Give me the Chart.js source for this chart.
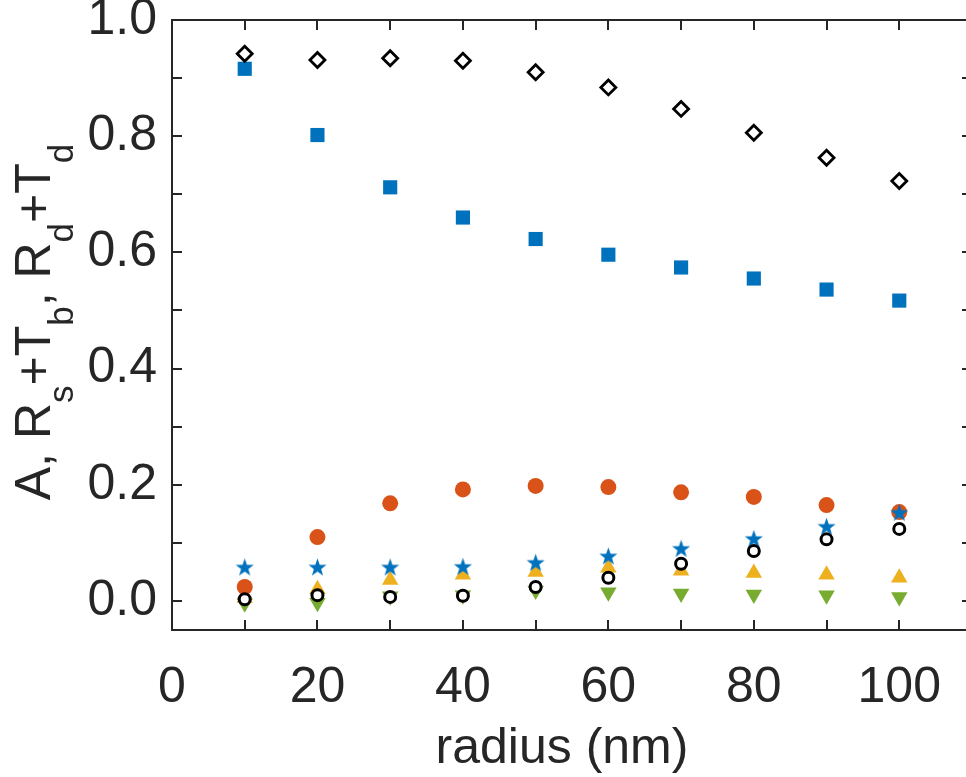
<!DOCTYPE html>
<html>
<head>
<meta charset="utf-8">
<script src="https://cdn.jsdelivr.net/npm/chart.js@4"></script>
<style>
  html, body { margin: 0; padding: 0; overflow: hidden; background: #fff; }
  #wrap { width: 990px; height: 777px; position: relative; }
</style>
</head>
<body>
<div id="wrap"><canvas id="c" width="990" height="777"></canvas></div>
<script>
// ---------- data ----------
const radius = [10, 20, 30, 40, 50, 60, 70, 80, 90, 100];
const seriesDiamond = [0.942, 0.931, 0.934, 0.930, 0.910, 0.884, 0.847, 0.806, 0.763, 0.723];
const seriesSquare  = [0.916, 0.802, 0.712, 0.660, 0.623, 0.596, 0.574, 0.555, 0.536, 0.517];
const seriesOrange  = [0.024, 0.110, 0.168, 0.192, 0.198, 0.196, 0.187, 0.179, 0.165, 0.153];
const seriesStar    = [0.057, 0.057, 0.057, 0.058, 0.065, 0.076, 0.089, 0.106, 0.127, 0.151];
const seriesOpen    = [0.003, 0.010, 0.007, 0.009, 0.024, 0.040, 0.064, 0.086, 0.106, 0.124];
const seriesYellow  = [0.005, 0.020, 0.036, 0.045, 0.050, 0.057, 0.052, 0.048, 0.045, 0.040];
const seriesGreen   = [-0.004, -0.003, 0.008, 0.010, 0.018, 0.015, 0.013, 0.011, 0.010, 0.007];

const xTickLabels = [0, 20, 40, 60, 80, 100];
const xTickMarks  = [0, 10, 20, 30, 40, 50, 60, 70, 80, 90, 100, 110];
const yTickLabels = [0, 0.2, 0.4, 0.6, 0.8, 1.0];
const yTickMarks  = [0, 0.1, 0.2, 0.3, 0.4, 0.5, 0.6, 0.7, 0.8, 0.9, 1.0];
const xLabel = 'radius (nm)';
const yLabelParts = [['A, R', false], ['s', true], ['+T', false], ['b', true], [', R', false], ['d', true], ['+T', false], ['d', true]];

// ---------- styles ----------
const TXT = '#262626';
const FONT = '"Liberation Sans", Arial, Helvetica, sans-serif';
const BLUE = '#0072BD', ORANGE = '#D95319', YELLOW = '#EDB120', GREEN = '#77AC30';

function makeStar(color, R) {
  const s = Math.ceil(R * 2 + 2);
  const cv = document.createElement('canvas');
  cv.width = s; cv.height = s;
  const g = cv.getContext('2d');
  const cx = s / 2, cy = s / 2, r = R * 0.4;
  g.beginPath();
  for (let i = 0; i < 10; i++) {
    const a = -Math.PI / 2 + i * Math.PI / 5;
    const rr = i % 2 === 0 ? R : r;
    const px = cx + rr * Math.cos(a), py = cy + rr * Math.sin(a);
    if (i === 0) g.moveTo(px, py); else g.lineTo(px, py);
  }
  g.closePath();
  g.fillStyle = color;
  g.fill();
  return cv;
}
const starImg = makeStar(BLUE, 9.5);

const pts = arr => radius.map((r, i) => ({ x: r, y: arr[i] }));

const frameTicks = {
  id: 'frameTicks',
  afterDatasetsDraw(chart) {
    const { ctx, chartArea: a, scales } = chart;
    const xs = scales.x, ys = scales.y;
    ctx.save();
    ctx.strokeStyle = TXT;
    ctx.lineWidth = 2;
    ctx.beginPath();
    const L = 10;
    xTickMarks.forEach(v => {
      const px = Math.round(xs.getPixelForValue(v));
      ctx.moveTo(px, a.bottom); ctx.lineTo(px, a.bottom - L);
      ctx.moveTo(px, a.top); ctx.lineTo(px, a.top + L);
    });
    yTickMarks.forEach(v => {
      const py = Math.round(ys.getPixelForValue(v));
      ctx.moveTo(a.left, py); ctx.lineTo(a.left + L, py);
      ctx.moveTo(a.right, py); ctx.lineTo(a.right - L, py);
    });
    ctx.stroke();
    ctx.strokeRect(a.left, a.top, a.right - a.left, a.bottom - a.top);
    ctx.restore();
  },
  afterDraw(chart) {
    const { ctx, chartArea: a } = chart;
    ctx.save();
    ctx.fillStyle = TXT;
    // x title
    ctx.font = '50px ' + FONT;
    ctx.textAlign = 'center';
    ctx.textBaseline = 'alphabetic';
    ctx.fillText(xLabel, (a.left + a.right) / 2 - 10, 763);
    // y title with subscripts
    const big = '50px ' + FONT, small = '35px ' + FONT;
    let total = 0;
    yLabelParts.forEach(([t, sub]) => { ctx.font = sub ? small : big; total += ctx.measureText(t).width; });
    const cy = (a.top + a.bottom) / 2 - 3;
    ctx.translate(50, cy);
    ctx.rotate(-Math.PI / 2);
    ctx.textAlign = 'left';
    let u = -total / 2;
    yLabelParts.forEach(([t, sub]) => {
      ctx.font = sub ? small : big;
      ctx.fillText(t, u, sub ? 23 : 0);
      u += ctx.measureText(t).width;
    });
    ctx.restore();
  }
};

new Chart(document.getElementById('c'), {
  type: 'scatter',
  data: {
    datasets: [
      { label: 'open', data: pts(seriesOpen), pointStyle: 'circle', pointRadius: 5.5, borderWidth: 3,
        borderColor: '#000', backgroundColor: '#fff' },
      { label: 'star', data: pts(seriesStar), pointStyle: starImg, pointRadius: 9.5 },
      { label: 'orange', data: pts(seriesOrange), pointStyle: 'circle', pointRadius: 8, borderWidth: 0,
        backgroundColor: ORANGE, borderColor: ORANGE },
      { label: 'yellow', data: pts(seriesYellow), pointStyle: 'triangle', pointRadius: 9.5, borderWidth: 0,
        backgroundColor: YELLOW, borderColor: YELLOW },
      { label: 'green', data: pts(seriesGreen), pointStyle: 'triangle', rotation: 180, pointRadius: 9.5, borderWidth: 0,
        backgroundColor: GREEN, borderColor: GREEN },
      { label: 'diamond', data: pts(seriesDiamond), pointStyle: 'rectRot', pointRadius: 7.5, borderWidth: 2.8,
        borderColor: '#000', backgroundColor: 'rgba(255,255,255,0)' },
      { label: 'square', data: pts(seriesSquare), pointStyle: 'rect', pointRadius: 10, borderWidth: 0,
        backgroundColor: BLUE, borderColor: BLUE }
    ]
  },
  options: {
    responsive: false,
    animation: false,
    events: [],
    layout: { padding: { top: 20, right: 18, left: 0, bottom: 0 } },
    plugins: { legend: { display: false }, tooltip: { enabled: false } },
    scales: {
      x: {
        type: 'linear', min: 0, max: 110,
        afterBuildTicks: s => { s.ticks = xTickLabels.map(v => ({ value: v })); },
        afterFit: s => { s.height = 147; s.paddingLeft = 0; s.paddingRight = 0; },
        grid: { display: false, drawTicks: false },
        border: { display: false },
        ticks: { color: TXT, font: { family: FONT, size: 50 }, padding: 28, maxRotation: 0,
                 callback: v => String(v) }
      },
      y: {
        type: 'linear', min: -0.05, max: 1.0,
        afterBuildTicks: s => { s.ticks = yTickLabels.map(v => ({ value: v })); },
        afterFit: s => { s.width = 172; s.paddingTop = 0; s.paddingBottom = 0; },
        grid: { display: false, drawTicks: false },
        border: { display: false },
        ticks: { color: TXT, font: { family: FONT, size: 50 }, padding: 15,
                 callback: v => v.toFixed(1) }
      }
    }
  },
  plugins: [frameTicks]
});
</script>
</body>
</html>
